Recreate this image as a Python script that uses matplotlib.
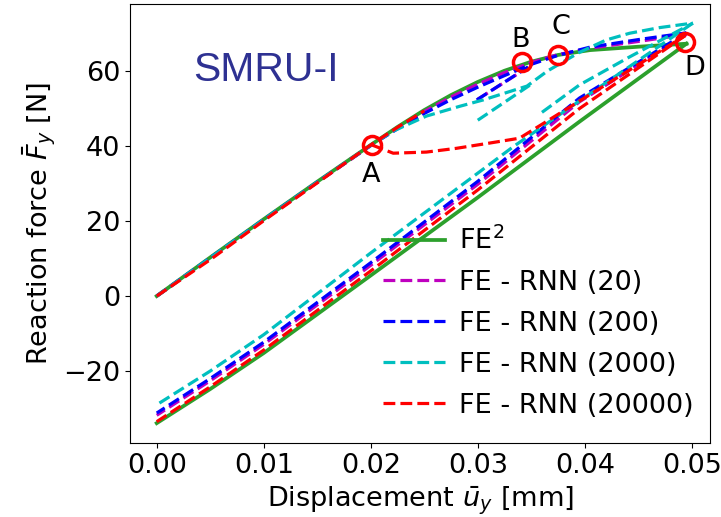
import matplotlib.pyplot as plt

# ---- FE^2 reference ----
fe2_load_u = [0.0, 0.005, 0.01, 0.015, 0.02, 0.0225, 0.025, 0.0275, 0.03, 0.0325, 0.035, 0.0375, 0.0405, 0.045, 0.0495]
fe2_load_f = [0.0, 10.3, 20.5, 30.5, 40.3, 45.1, 49.6, 53.6, 57.1, 60.1, 62.5, 64.3, 65.6, 66.5, 67.3]
fe2_unload_u = [0.0495, 0.0395, 0.03, 0.02, 0.01, 0.005, 0.0]
fe2_unload_f = [67.3, 46.5, 26.3, 5.5, -15.2, -24.8, -33.9]

# ---- FE - RNN (20) ----
rnn20_load_u = [0.0, 0.005, 0.01, 0.015, 0.02, 0.0225, 0.025, 0.0275, 0.03, 0.0325, 0.035, 0.0375, 0.0405, 0.045, 0.0495]
rnn20_load_f = [0.0, 10.1, 20.3, 30.3, 40.1, 44.8, 49.2, 53.1, 56.5, 59.6, 62.3, 64.4, 66.1, 67.9, 69.8]
rnn20_cycle_u = [0.0300, 0.0347]
rnn20_cycle_f = [52.5, 61.0]
rnn20_unload_u = [0.0495, 0.0395, 0.03, 0.02, 0.01, 0.005, 0.0]
rnn20_unload_f = [69.8, 51.8, 29.8, 8.2, -12.9, -22.6, -31.8]

# ---- FE - RNN (200) ----
rnn200_load_u = [0.0, 0.005, 0.01, 0.015, 0.02, 0.0225, 0.025, 0.0275, 0.03, 0.0325, 0.035, 0.0375, 0.0405, 0.045, 0.0495]
rnn200_load_f = [0.0, 10.2, 20.4, 30.4, 40.2, 44.6, 48.7, 52.4, 55.7, 58.8, 61.8, 64.2, 66.4, 68.4, 70.2]
rnn200_cycle_u = [0.0299, 0.0347]
rnn200_cycle_f = [52.3, 61.1]
rnn200_unload_u = [0.0495, 0.0395, 0.03, 0.02, 0.01, 0.005, 0.0]
rnn200_unload_f = [70.2, 52.8, 30.6, 8.9, -12.3, -22.0, -31.2]

# ---- FE - RNN (2000) ----
rnn2000_load_u = [0.0, 0.005, 0.01, 0.015, 0.02, 0.0221, 0.0252, 0.0283, 0.0305, 0.0346,
                  0.0365, 0.0395, 0.042, 0.0442, 0.047, 0.0501]
rnn2000_load_f = [0.0, 10.2, 20.4, 30.4, 40.2, 44.0, 48.0, 50.6, 52.3, 56.0,
                  60.0, 65.0, 68.3, 70.1, 71.6, 72.8]
rnn2000_cycle_u = [0.0300, 0.0349]
rnn2000_cycle_f = [46.9, 56.3]
rnn2000_reload_u = [0.0360, 0.0395, 0.0442, 0.0501]
rnn2000_reload_f = [49.0, 56.3, 63.8, 72.8]
rnn2000_unload_u = [0.0501, 0.0405, 0.0333, 0.02, 0.01, 0.005, 0.0]
rnn2000_unload_f = [72.8, 54.0, 39.8, 11.5, -10.3, -20.0, -29.0]

# ---- FE - RNN (20000) ----
rnn20000_load_u = [0.0, 0.005, 0.01, 0.015, 0.02, 0.0225, 0.025]
rnn20000_load_f = [0.0, 9.7, 20.1, 30.2, 40.3, 45.0, 49.4]
rnn20000_branch_u = [0.0201, 0.0221, 0.0252, 0.028, 0.0311, 0.0339, 0.0494]
rnn20000_branch_f = [40.3, 38.1, 38.4, 39.4, 40.8, 42.1, 69.5]
rnn20000_unload_u = [0.0494, 0.0395, 0.03, 0.02, 0.01, 0.005, 0.0]
rnn20000_unload_f = [69.5, 50.0, 28.3, 6.7, -14.4, -24.2, -33.5]

# marked states on the FE^2 curve
point_names = ['A', 'B', 'C', 'D']
point_u = [0.0201, 0.0341, 0.0375, 0.0494]
point_f = [40.3, 62.5, 64.3, 67.8]
label_u = [0.0200, 0.0340, 0.0378, 0.0503]
label_f = [32.3, 68.3, 71.7, 60.8]

fs = 19.5

fig = plt.figure(figsize=(7.21, 5.17), dpi=100)
ax = fig.add_axes([0.1803, 0.1431, 0.8044, 0.8492])

green = '#2ca02c'
ax.plot(fe2_load_u, fe2_load_f, color=green, lw=2.7, label='FE$^2$')
ax.plot(fe2_unload_u, fe2_unload_f, color=green, lw=2.7)

dash = dict(ls='--', lw=2.3)
ax.plot(rnn20_load_u, rnn20_load_f, color='m', label='FE - RNN (20)', **dash)
ax.plot(rnn20_cycle_u, rnn20_cycle_f, color='m', **dash)
ax.plot(rnn20_unload_u, rnn20_unload_f, color='m', **dash)

ax.plot(rnn200_load_u, rnn200_load_f, color='b', label='FE - RNN (200)', **dash)
ax.plot(rnn200_cycle_u, rnn200_cycle_f, color='b', **dash)
ax.plot(rnn200_unload_u, rnn200_unload_f, color='b', **dash)

ax.plot(rnn2000_load_u, rnn2000_load_f, color='c', label='FE - RNN (2000)', **dash)
ax.plot(rnn2000_cycle_u, rnn2000_cycle_f, color='c', **dash)
ax.plot(rnn2000_reload_u, rnn2000_reload_f, color='c', **dash)
ax.plot(rnn2000_unload_u, rnn2000_unload_f, color='c', **dash)

ax.plot(rnn20000_load_u, rnn20000_load_f, color='r', label='FE - RNN (20000)', **dash)
ax.plot(rnn20000_branch_u, rnn20000_branch_f, color='r', **dash)
ax.plot(rnn20000_unload_u, rnn20000_unload_f, color='r', **dash)

ax.plot(point_u, point_f, 'o', color='r', mfc='none', ms=13, mew=2.5, zorder=5)
for name, x, y in zip(point_names, label_u, label_f):
    ax.text(x, y, name, fontsize=fs, ha='center', va='center')

ax.text(0.109, 0.85, 'SMRU-I', transform=ax.transAxes, fontsize=29.5,
        family='Liberation Sans', color='#2e3192', ha='left', va='center')

ax.set_xlim(-0.0025, 0.0517)
ax.set_ylim(-39.2, 77.9)
ax.set_xticks([0.0, 0.01, 0.02, 0.03, 0.04, 0.05])
ax.set_xticklabels(['0.00', '0.01', '0.02', '0.03', '0.04', '0.05'])
ax.set_yticks([-20, 0, 20, 40, 60])
ax.tick_params(labelsize=fs)
ax.set_xlabel(r'Displacement $\bar{u}_y$ [mm]', fontsize=fs, labelpad=4)
ax.set_ylabel(r'Reaction force $\bar{F}_y$ [N]', fontsize=fs)

ax.legend(loc='lower right', bbox_to_anchor=(1.013, 0.0), frameon=False,
          fontsize=fs, handlelength=2.3, handletextpad=0.5, labelspacing=0.55)

fig.savefig('out.png', dpi=100)
